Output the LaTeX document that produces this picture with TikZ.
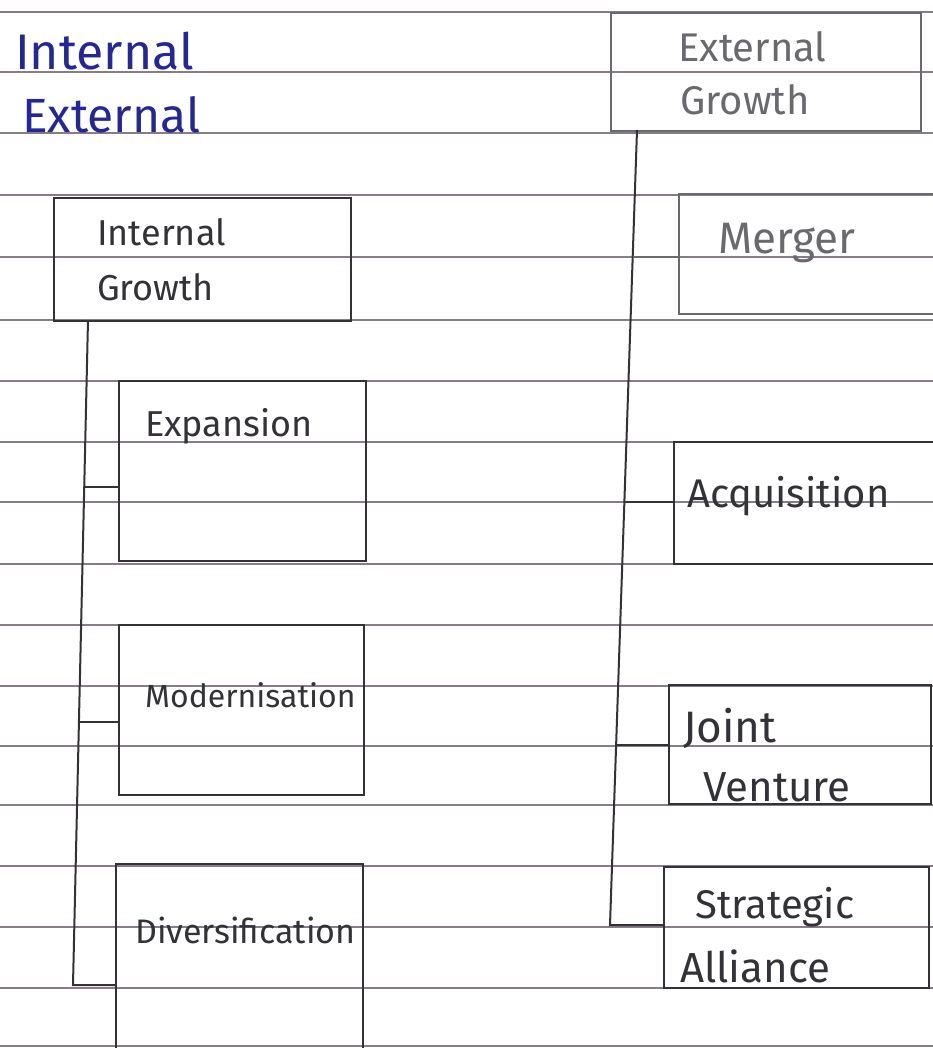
\documentclass[tikz,border=0pt]{standalone}
\usepackage{fontspec}
\setmainfont{Fira Sans}
\usetikzlibrary{calc}
\definecolor{ink}{RGB}{35,40,150}
\definecolor{pencil}{RGB}{50,50,55}
\definecolor{pencillight}{RGB}{105,105,110}
\definecolor{rulecol}{RGB}{135,125,135}
\newcommand{\fs}[1]{\fontsize{#1}{#1}\selectfont}
\begin{document}
\begin{tikzpicture}[x=1pt,y=-1pt,
  paperrule/.style={draw=rulecol, line width=2pt},
  box/.style={draw=pencil, line width=2pt, rectangle, inner sep=0pt, anchor=north west},
  lightbox/.style={box, draw=pencillight, line width=1.6pt},
  wire/.style={draw=pencil, line width=2pt},
  lightwire/.style={draw=pencillight, line width=1.6pt},
  boxtext/.style={anchor=base west, inner sep=0pt, text=pencil, font=\fs{34}},
  lighttext/.style={boxtext, text=pencillight},
  inktext/.style={anchor=base west, inner sep=0pt, text=ink, font=\fs{50}}
]
\useasboundingbox (0,0) rectangle (933,1048);
\clip (0,0) rectangle (933,1048);
\fill[white] (0,0) rectangle (933,1048);
% paper rules
\foreach \yy in {12,72,133,195,257,320,381,442,502,564,625,686,746,805,866,927,988,1046}
  \draw[paperrule] (0,\yy) -- (933,\yy);

% headings
\node[inktext] (tin) at (15,70) {Internal};
\node[inktext, font=\fs{48}] (tex) at (22,133) {External};

% boxes
\node[box, minimum width=297pt, minimum height=123pt] (IG) at (53,197) {};
\node[lightbox, minimum width=310pt, minimum height=118pt] (EG) at (610,12) {};
\node[lightbox, minimum width=300pt, minimum height=120pt] (MER) at (678,193) {};
\node[box, minimum width=247pt, minimum height=180pt] (EXP) at (118,380) {};
\node[box, minimum width=300pt, minimum height=122pt] (ACQ) at (673,441) {};
\node[box, minimum width=245pt, minimum height=170pt] (MOD) at (118,624) {};
\node[box, minimum width=262pt, minimum height=119pt] (JV) at (668,684) {};
\node[box, minimum width=247pt, minimum height=220pt] (DIV) at (115,863) {};
\node[box, minimum width=265pt, minimum height=121pt] (SA) at (663,866) {};

% box texts
\node[boxtext, font=\fs{36}] (tig1) at (97,246) {Internal};
\node[boxtext, font=\fs{36}] (tig2) at (97,300) {Growth};
\node[lighttext, font=\fs{40}] (teg1) at (678,62) {External};
\node[lighttext, font=\fs{40}] (teg2) at (680,115) {Growth};
\node[lighttext, font=\fs{44}] (tmer) at (718,254) {Merger};
\node[boxtext, font=\fs{36}] (texp) at (145,436) {Expansion};
\node[boxtext, font=\fs{40}] (tacq) at (687,507) {Acquisition};
\node[boxtext, font=\fs{32}] (tmod) at (145,707) {Modernisation};
\node[boxtext, font=\fs{44}] (tjv1) at (683,742) {Joint};
\node[boxtext, font=\fs{42}] (tjv2) at (703,801) {Venture};
\node[boxtext, font=\fs{34}] (tdiv) at (135,943) {Diversification};
\node[boxtext, font=\fs{40}] (tsa1) at (695,918) {Strategic};
\node[boxtext, font=\fs{42}] (tsa2) at (680,982) {Alliance};

% internal growth tree
\coordinate (ia) at (88,320);
\coordinate (ib) at (73,985);
\coordinate (ie) at (84,487);
\coordinate (im) at (79,722);
\draw[wire] (ia) -- (ib) -- (ib -| DIV.west);
\draw[wire] (ie) -- (ie -| EXP.west);
\draw[wire] (im) -- (im -| MOD.west);

% external growth tree
\coordinate (ea) at (637,130);
\coordinate (eb) at (610,925);
\coordinate (em) at (633,257);
\coordinate (eq) at (625,502);
\coordinate (ej) at (617,745);
\draw[wire] (ea) -- (eb) -- (eb -| SA.west);
\draw[lightwire] (em) -- (em -| MER.west);
\draw[wire] (eq) -- (eq -| ACQ.west);
\draw[wire] (ej) -- (ej -| JV.west);
\end{tikzpicture}
\end{document}
